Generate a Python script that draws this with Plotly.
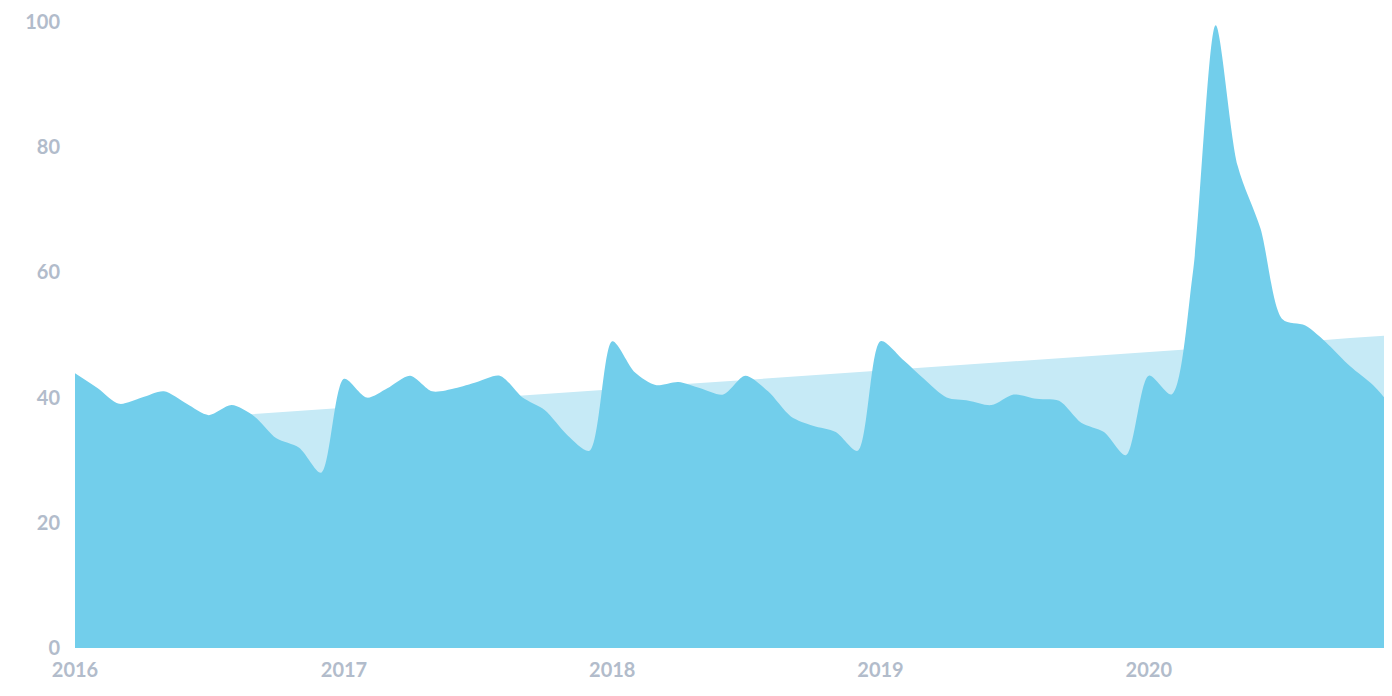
import plotly.graph_objects as go
import pandas as pd

dates = pd.date_range("2016-01-01", periods=60, freq="MS")
values = [43.9,41.5,39,40,41,39,37.2,38.8,37,33.5,32,28,
          43,40,41.5,43.5,41,41.5,42.5,43.5,40,38,34,31.5,
          49,44,42,42.5,41.5,40.5,43.5,41,37,35.5,34.5,31.5,
          49,46,43,40,39.5,38.8,40.5,39.8,39.5,36,34.5,30.8,
          43.5,40.5,60,99.5,77,67,52.5,51.5,48.5,45,42,38]
trend_start, trend_end = 35.4, 50.0
trend = [trend_start + (trend_end - trend_start) * i / 59 for i in range(60)]
tick_vals = ["2016-01-01","2017-01-01","2018-01-01","2019-01-01","2020-01-01"]
tick_text = ["2016","2017","2018","2019","2020"]

fig = go.Figure()
fig.add_trace(go.Scatter(x=dates, y=trend, mode="lines", line=dict(width=0),
                         fill="tozeroy", fillcolor="#C6EAF6", hoverinfo="skip"))
fig.add_trace(go.Scatter(x=dates, y=values, mode="lines",
                         line=dict(width=0, shape="spline", smoothing=0.8),
                         fill="tozeroy", fillcolor="#72CEEB"))
fig.update_layout(width=1392, height=696, showlegend=False,
                  plot_bgcolor="white", paper_bgcolor="white",
                  margin=dict(l=67, r=5, t=14, b=56),
                  font=dict(family="Lato", size=20, color="#B2BCCB", weight=700))
fig.update_xaxes(range=[dates[0], dates[-1]], tickvals=tick_vals, ticktext=tick_text,
                 showgrid=False, zeroline=False, showline=False, automargin=False,
                 ticklabelstandoff=8)
fig.update_yaxes(range=[0, 100], tickvals=[0,20,40,60,80,100], showgrid=False,
                 zeroline=False, showline=False, ticklabelstandoff=14, automargin=False)
fig.write_html("out.html")
